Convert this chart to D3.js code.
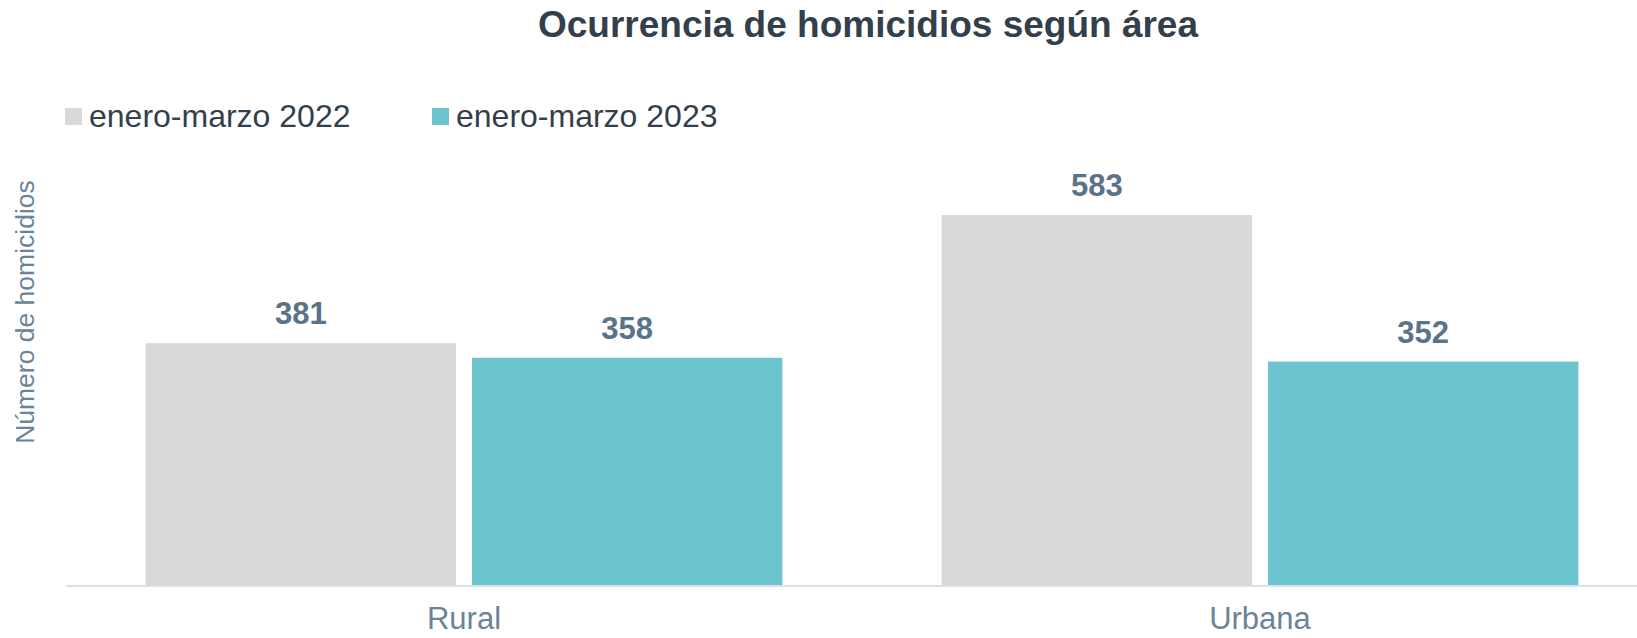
<!DOCTYPE html>
<html>
<head>
<meta charset="utf-8">
<script src="https://cdn.jsdelivr.net/npm/d3@7"></script>
<style>
  body { margin: 0; background: #fff; }
  svg { display: block; font-family: "Liberation Sans", Arial, sans-serif; }
</style>
</head>
<body>
<svg></svg>
<script>
const width = 1637;
const height = 638;

const areas = ["Rural", "Urbana"];
const seriesNames = ["enero-marzo 2022", "enero-marzo 2023"];
const values2022 = [381, 583];
const values2023 = [358, 352];
const colors = ["#d9d9d9", "#6cc4cf"];

const baseY = 585;
const topY = 215;

let svg = d3.select("svg").attr("width", width).attr("height", height);

// title
svg.append("text")
    .attr("x", 868)
    .attr("y", 37)
    .attr("text-anchor", "middle")
    .style("font-size", "37px")
    .style("font-weight", "bold")
    .style("fill", "#333f4b")
    .text("Ocurrencia de homicidios según área");

// legend
const legendX = [65, 432];
seriesNames.forEach((name, i) => {
    svg.append("rect")
        .attr("x", legendX[i])
        .attr("y", 108)
        .attr("width", 17)
        .attr("height", 17)
        .style("fill", colors[i]);
    svg.append("text")
        .attr("x", legendX[i] + 24)
        .attr("y", 127)
        .style("font-size", "32px")
        .style("fill", "#333f4b")
        .text(name);
});

// scales
let scaleX = d3.scaleBand()
    .domain(areas)
    .range([66, 1658])
    .paddingInner(0.2)
    .paddingOuter(0.1);

let scaleSeries = d3.scaleBand()
    .domain(seriesNames)
    .range([0, scaleX.bandwidth()])
    .paddingInner(0.049);

let scaleY = d3.scaleLinear()
    .domain([0, 583])
    .range([baseY, topY]);

// y title
svg.append("text")
    .attr("transform", "translate(34, 312) rotate(-90)")
    .attr("text-anchor", "middle")
    .style("font-size", "26.5px")
    .style("fill", "#6b8499")
    .text("Número de homicidios");

const rows = areas.map((a, i) => ({ area: a, vals: [values2022[i], values2023[i]] }));

const groups = svg.selectAll(".group")
    .data(rows)
    .enter()
    .append("g")
    .attr("class", "group")
    .attr("transform", d => `translate(${scaleX(d.area)}, 0)`);

groups.selectAll("rect")
    .data(d => d.vals.map((v, i) => ({ series: seriesNames[i], value: v, idx: i })))
    .enter()
    .append("rect")
    .attr("x", d => scaleSeries(d.series))
    .attr("y", d => scaleY(d.value))
    .attr("width", scaleSeries.bandwidth())
    .attr("height", d => baseY - scaleY(d.value))
    .style("fill", d => colors[d.idx]);

groups.selectAll(".lbl")
    .data(d => d.vals.map((v, i) => ({ series: seriesNames[i], value: v })))
    .enter()
    .append("text")
    .attr("class", "lbl")
    .attr("x", d => scaleSeries(d.series) + scaleSeries.bandwidth() / 2)
    .attr("y", d => scaleY(d.value) - 19)
    .attr("text-anchor", "middle")
    .style("font-size", "31px")
    .style("font-weight", "bold")
    .style("fill", "#5a7389")
    .text(d => d.value);

// x axis
let axisX = d3.axisBottom(scaleX).tickSize(0).tickPadding(21);
let gx = svg.append("g")
    .attr("transform", `translate(0, ${baseY + 1})`)
    .call(axisX);
gx.select(".domain").remove();
gx.selectAll("text")
    .style("font-size", "31px")
    .style("font-family", "Liberation Sans, Arial, sans-serif")
    .style("fill", "#6b8499");
svg.append("line")
    .attr("x1", 66)
    .attr("x2", width)
    .attr("y1", baseY + 1)
    .attr("y2", baseY + 1)
    .style("stroke", "#d9e1ea")
    .style("stroke-width", 2);
</script>
</body>
</html>
